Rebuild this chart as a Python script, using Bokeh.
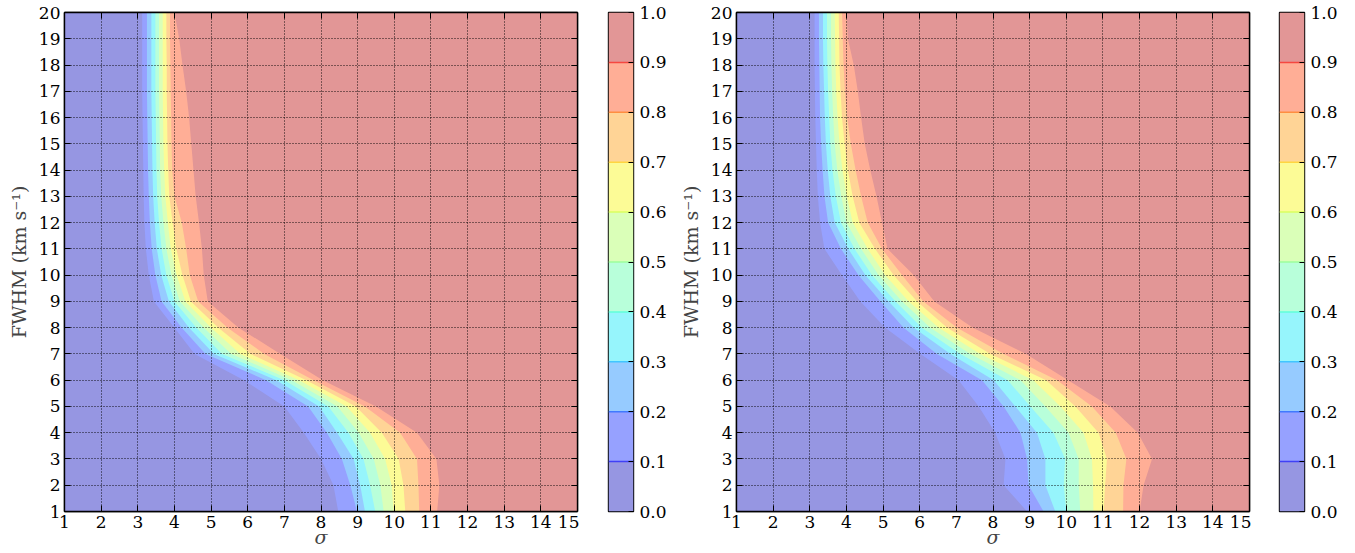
from bokeh.plotting import figure
from bokeh.layouts import row
from bokeh.models import (Range1d, LinearAxis, FixedTicker, ColumnDataSource,
                          PrintfTickFormatter, CustomJSTickFormatter)
from bokeh.embed import file_html
from bokeh.resources import INLINE

# ---------------- data ----------------
levels = [0.0, 0.1, 0.2, 0.3, 0.4, 0.5, 0.6, 0.7, 0.8, 0.9, 1.0]
fwhm = list(range(1, 21))              # FWHM rows (km/s)
sigma_ticks = list(range(1, 16))       # sigma axis ticks

# sigma position of each contour level (0.1 ... 0.9) for FWHM = 1 ... 20, left panel
L10 = [8.47, 8.34, 8.00, 7.53, 7.00, 5.90, 4.55, 4.00, 3.44, 3.30, 3.22, 3.18, 3.16, 3.15, 3.14, 3.13, 3.12, 3.12, 3.12, 3.12]
L20 = [8.98, 8.80, 8.57, 8.16, 7.65, 6.50, 4.85, 4.20, 3.65, 3.48, 3.38, 3.33, 3.30, 3.28, 3.27, 3.26, 3.25, 3.25, 3.25, 3.25]
L30 = [9.20, 9.07, 8.89, 8.44, 7.95, 6.78, 5.08, 4.40, 3.85, 3.64, 3.52, 3.46, 3.42, 3.40, 3.39, 3.38, 3.37, 3.37, 3.37, 3.37]
L40 = [9.48, 9.34, 9.16, 8.75, 8.20, 7.00, 5.30, 4.60, 4.00, 3.78, 3.65, 3.58, 3.53, 3.51, 3.50, 3.49, 3.48, 3.48, 3.48, 3.48]
L50 = [9.71, 9.62, 9.44, 9.03, 8.45, 7.20, 5.55, 4.80, 4.15, 3.92, 3.78, 3.70, 3.64, 3.61, 3.60, 3.59, 3.58, 3.58, 3.58, 3.58]
L60 = [9.98, 9.93, 9.75, 9.34, 8.70, 7.40, 5.80, 5.00, 4.30, 4.06, 3.90, 3.82, 3.75, 3.72, 3.70, 3.69, 3.68, 3.68, 3.68, 3.68]
L70 = [10.30, 10.25, 10.12, 9.66, 8.95, 7.60, 6.08, 5.20, 4.45, 4.22, 4.05, 3.95, 3.86, 3.83, 3.81, 3.80, 3.79, 3.79, 3.78, 3.78]
L80 = [10.68, 10.66, 10.62, 10.16, 9.20, 7.80, 6.45, 5.45, 4.65, 4.42, 4.32, 4.20, 4.00, 3.94, 3.92, 3.91, 3.90, 3.89, 3.88, 3.88]
L90 = [11.17, 11.23, 11.15, 10.62, 9.50, 8.05, 6.89, 5.75, 4.91, 4.80, 4.75, 4.67, 4.58, 4.52, 4.46, 4.40, 4.32, 4.22, 4.13, 4.00]

# same for the right panel
R10 = [8.93, 8.29, 8.34, 8.06, 7.61, 7.06, 6.02, 5.06, 4.38, 3.88, 3.40, 3.28, 3.22, 3.19, 3.17, 3.15, 3.14, 3.13, 3.13, 3.13]
R20 = [9.38, 8.97, 8.93, 8.75, 8.29, 7.70, 6.47, 5.56, 4.93, 4.33, 3.85, 3.50, 3.40, 3.35, 3.31, 3.28, 3.27, 3.26, 3.25, 3.25]
R30 = [9.70, 9.43, 9.43, 9.20, 8.61, 8.02, 6.84, 5.84, 5.15, 4.52, 4.05, 3.68, 3.56, 3.49, 3.44, 3.41, 3.39, 3.37, 3.36, 3.36]
R40 = [10.00, 9.93, 9.97, 9.65, 9.02, 8.40, 7.11, 6.06, 5.34, 4.70, 4.22, 3.85, 3.71, 3.62, 3.56, 3.53, 3.50, 3.48, 3.47, 3.47]
R50 = [10.38, 10.34, 10.34, 10.06, 9.43, 8.75, 7.38, 6.29, 5.52, 4.88, 4.40, 4.00, 3.86, 3.75, 3.68, 3.64, 3.61, 3.59, 3.58, 3.58]
R60 = [10.74, 10.73, 10.70, 10.47, 9.84, 9.10, 7.65, 6.52, 5.70, 5.06, 4.58, 4.17, 4.01, 3.89, 3.81, 3.76, 3.72, 3.70, 3.69, 3.68]
R70 = [11.02, 11.06, 11.11, 10.88, 10.25, 9.45, 7.93, 6.75, 5.93, 5.29, 4.78, 4.35, 4.17, 4.04, 3.95, 3.88, 3.84, 3.81, 3.80, 3.79]
R80 = [11.55, 11.56, 11.64, 11.35, 10.70, 9.75, 8.29, 7.02, 6.10, 5.52, 4.97, 4.58, 4.40, 4.25, 4.12, 4.02, 3.96, 3.92, 3.90, 3.88]
R90 = [12.00, 12.11, 12.34, 11.95, 11.20, 10.05, 8.90, 7.45, 6.40, 5.84, 5.12, 4.97, 4.82, 4.65, 4.50, 4.40, 4.31, 4.20, 4.04, 4.00]

left_contours = [L10, L20, L30, L40, L50, L60, L70, L80, L90]
right_contours = [R10, R20, R30, R40, R50, R60, R70, R80, R90]

# ---------------- style ----------------
FONT = "DejaVu Serif"
ALPHA = 0.41


def jet(v):
    def interp(pts):
        for (x0, y0), (x1, y1) in zip(pts[:-1], pts[1:]):
            if x0 <= v <= x1:
                return y0 + (y1 - y0) * (v - x0) / (x1 - x0)
        return pts[-1][1]
    r = interp([(0, 0), (0.35, 0), (0.66, 1), (0.89, 1), (1, 0.5)])
    g = interp([(0, 0), (0.125, 0), (0.375, 1), (0.64, 1), (0.91, 0), (1, 0)])
    b = interp([(0, 0.5), (0.11, 1), (0.34, 1), (0.65, 0), (1, 0)])
    return r, g, b


def blend(rgb, a):
    return "#%02x%02x%02x" % tuple(int(round(255 * (1 - a) + 255 * c * a)) for c in rgb)


band_colors = [blend(jet((lo + hi) / 2), ALPHA) for lo, hi in zip(levels[:-1], levels[1:])]
edge_colors = [blend(jet(v), 0.75) for v in levels[1:-1]]

HEIGHT = 552
TOP = 12
BOTTOM = 41


def style_axis(ax, ticks, labels=True):
    ax.ticker = FixedTicker(ticks=ticks)
    ax.axis_line_color = "black"
    ax.axis_line_width = 1.4
    ax.major_tick_line_color = "black"
    ax.major_tick_line_width = 1
    ax.major_tick_in = 6
    ax.major_tick_out = 0
    ax.minor_tick_line_color = None
    ax.major_label_text_font = FONT
    ax.major_label_text_color = "black"
    if labels:
        ax.major_label_text_font_size = "17px"
        ax.major_label_standoff = 4
    else:
        ax.major_label_text_font_size = "0px"
        ax.major_label_standoff = 0
        ax.formatter = CustomJSTickFormatter(code="return ''")


def make_panel(contours, min_left, width):
    xs = [[sigma_ticks[0], sigma_ticks[-1], sigma_ticks[-1], sigma_ticks[0]]]
    ys = [[fwhm[0], fwhm[0], fwhm[-1], fwhm[-1]]]
    for c in contours:
        xs.append(list(c) + [sigma_ticks[-1], sigma_ticks[-1]])
        ys.append(list(fwhm) + [fwhm[-1], fwhm[0]])
    src = ColumnDataSource(dict(xs=xs, ys=ys, color=band_colors))

    p = figure(width=width, height=HEIGHT,
               x_range=Range1d(sigma_ticks[0], sigma_ticks[-1]),
               y_range=Range1d(fwhm[0], fwhm[-1]),
               output_backend="svg", toolbar_location=None,
               min_border_left=min_left, min_border_right=2,
               min_border_top=TOP, min_border_bottom=BOTTOM,
               background_fill_color="white", border_fill_color="white")
    xa = p.below[0]
    ya = p.left[0]
    p.patches("xs", "ys", source=src, fill_color="color", line_color=None)

    style_axis(xa, sigma_ticks)
    style_axis(ya, fwhm)
    top_ax = LinearAxis()
    right_ax = LinearAxis()
    style_axis(top_ax, sigma_ticks, labels=False)
    style_axis(right_ax, fwhm, labels=False)
    p.add_layout(top_ax, "above")
    p.add_layout(right_ax, "right")

    xa.axis_label = "σ"
    xa.axis_label_text_font = FONT
    xa.axis_label_text_font_style = "italic"
    xa.axis_label_text_font_size = "19px"
    xa.axis_label_standoff = -5
    ya.axis_label = "FWHM (km s⁻¹)"
    ya.axis_label_text_font = FONT
    ya.axis_label_text_font_style = "normal"
    ya.axis_label_text_font_size = "19px"
    ya.axis_label_standoff = 6

    for g, t in ((p.xgrid, sigma_ticks), (p.ygrid, fwhm)):
        g.ticker = FixedTicker(ticks=t)
        g.grid_line_color = "black"
        g.grid_line_alpha = 0.9
        g.grid_line_dash = "1 2"
        g.grid_line_width = 1
        g.level = "overlay"

    p.outline_line_color = "black"
    p.outline_line_width = 1.4
    return p


def make_colorbar(min_left):
    cb = figure(width=min_left + 25 + 40, height=HEIGHT,
                x_range=Range1d(0, 1), y_range=Range1d(levels[0], levels[-1]),
                output_backend="svg", toolbar_location=None,
                x_axis_location=None, y_axis_location="right",
                min_border_left=min_left, min_border_right=40,
                min_border_top=TOP, min_border_bottom=BOTTOM,
                background_fill_color="white", border_fill_color="white")
    cb.quad(left=0, right=1, bottom=levels[:-1], top=levels[1:],
            fill_color=band_colors, line_color=None)
    cb.segment(x0=0, x1=1, y0=levels[1:-1], y1=levels[1:-1],
               line_color=edge_colors, line_width=1.5)
    ax = cb.yaxis[0]
    style_axis(ax, levels)
    ax.formatter = PrintfTickFormatter(format="%.1f")
    ax.major_tick_in = 5
    ax.major_label_standoff = 6
    ax.axis_line_color = None
    cb.xgrid.visible = False
    cb.ygrid.visible = False
    cb.outline_line_color = "black"
    cb.outline_line_width = 1.4
    return cb


pA = make_panel(left_contours, 64, 64 + 513 + 2)
cA = make_colorbar(29)
pB = make_panel(right_contours, 63, 63 + 513 + 2)
cB = make_colorbar(28)

layout = row(pA, cA, pB, cB)
open("out.html", "w").write(file_html(layout, INLINE))
